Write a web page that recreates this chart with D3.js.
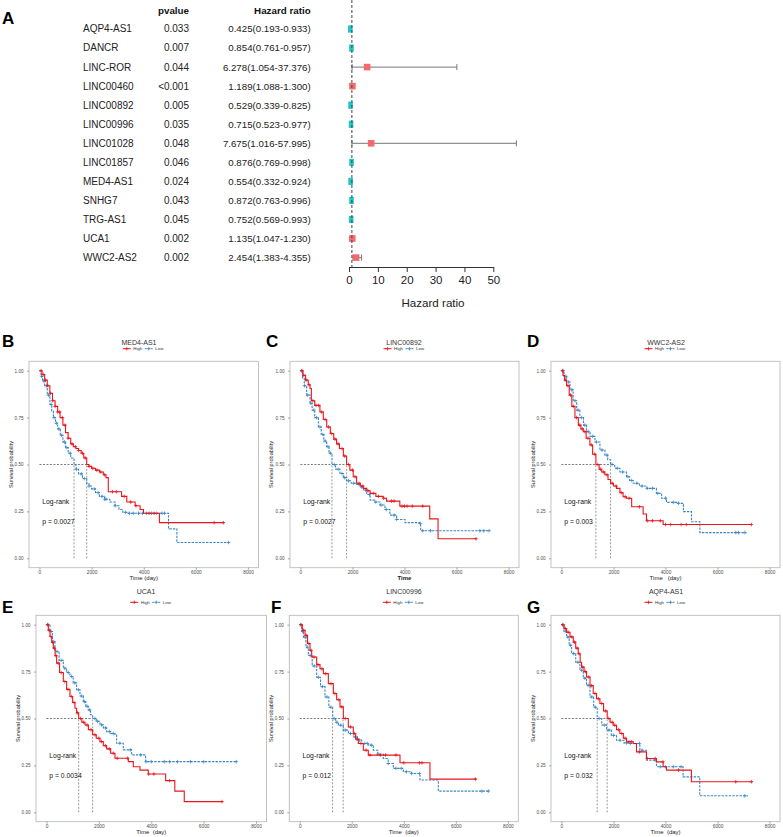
<!DOCTYPE html>
<html><head><meta charset="utf-8">
<script src="https://cdn.jsdelivr.net/npm/d3@7/dist/d3.min.js"></script>
<style>
body{margin:0;background:#fff}
text{font-family:"Liberation Sans",Arial,Helvetica,sans-serif}
</style>
</head><body>
<svg id="fig" width="783" height="837"></svg>
<script>
// ---------------- Forest plot data (panel A) ----------------
const genes = ["AQP4-AS1","DANCR","LINC-ROR","LINC00460","LINC00892","LINC00996","LINC01028","LINC01857","MED4-AS1","SNHG7","TRG-AS1","UCA1","WWC2-AS2"];
const pvalues = ["0.033","0.007","0.044","<0.001","0.005","0.035","0.048","0.046","0.024","0.043","0.045","0.002","0.002"];
const hr     = [0.425,0.854,6.278,1.189,0.529,0.715,7.675,0.876,0.554,0.872,0.752,1.135,2.454];
const hrLow  = [0.193,0.761,1.054,1.088,0.339,0.523,1.016,0.769,0.332,0.763,0.569,1.047,1.383];
const hrHigh = [0.933,0.957,37.376,1.300,0.825,0.977,57.995,0.998,0.924,0.996,0.993,1.230,4.355];
const hrTicks = [0,10,20,30,40,50];

// ---------------- Kaplan-Meier data (panels B-G) ----------------
const kmLetters = ["B","C","D","E","F","G"];
const kmTitles  = ["MED4-AS1","LINC00892","WWC2-AS2","UCA1","LINC00996","AQP4-AS1"];
const kmPvals   = ["p = 0.0027","p = 0.0027","p = 0.003","p = 0.0034","p = 0.012","p = 0.032"];
const kmXLabels = ["Time (day)","Time","Time   (day)","Time  (day)","Time  (day)","Time  (day)"];
const kmMedians = [[1327,1813],[1212,1775],[1325,1888],[1229,1763],[1263,1670],[1375,1758]];
const yTicks = [0,0.25,0.5,0.75,1];
const xTicks = [0,2000,4000,6000,8000];
const groupNames = ["High","Low"];

// [time, survival] step points
const B_high = [[0,1],[100,0.98],[200,0.95],[300,0.92],[400,0.88],[500,0.84],[600,0.81],[700,0.78],[790,0.75],[900,0.71],[1000,0.67],[1100,0.64],[1200,0.61],[1300,0.595],[1400,0.585],[1500,0.575],[1600,0.56],[1700,0.535],[1813,0.50],[1900,0.49],[2000,0.48],[2150,0.47],[2300,0.46],[2450,0.445],[2550,0.43],[2640,0.355],[3150,0.33],[3350,0.30],[3670,0.28],[3860,0.26],[3990,0.24],[4600,0.19],[7100,0.19]];
const B_low  = [[0,1],[60,0.97],[120,0.945],[200,0.92],[300,0.87],[400,0.82],[470,0.785],[535,0.75],[620,0.72],[700,0.69],[800,0.655],[900,0.62],[1000,0.59],[1100,0.56],[1200,0.535],[1327,0.50],[1400,0.475],[1500,0.45],[1650,0.425],[1813,0.40],[1900,0.385],[2000,0.37],[2150,0.35],[2300,0.33],[2500,0.315],[2700,0.30],[2900,0.28],[3050,0.26],[3200,0.245],[3400,0.24],[4950,0.157],[5270,0.084],[7300,0.084]];
const C_high = [[0,1],[100,0.975],[200,0.95],[300,0.925],[370,0.905],[420,0.84],[550,0.815],[750,0.78],[880,0.74],[1010,0.70],[1150,0.665],[1280,0.635],[1390,0.61],[1500,0.585],[1650,0.545],[1775,0.50],[1900,0.47],[2030,0.435],[2160,0.40],[2300,0.385],[2420,0.373],[2550,0.36],[2680,0.346],[2900,0.33],[3180,0.32],[3310,0.305],[3820,0.278],[4970,0.21],[5290,0.104],[6760,0.104]];
const C_low  = [[0,1],[80,0.96],[150,0.92],[240,0.87],[370,0.826],[450,0.79],[550,0.75],[690,0.70],[800,0.66],[900,0.625],[1010,0.595],[1100,0.56],[1212,0.50],[1350,0.475],[1520,0.452],[1650,0.43],[1775,0.413],[1950,0.40],[2160,0.394],[2300,0.38],[2420,0.364],[2550,0.34],[2680,0.31],[2850,0.30],[3060,0.284],[3250,0.26],[3440,0.23],[3700,0.207],[4020,0.19],[4590,0.186],[4620,0.147],[7270,0.147]];
const D_high = [[0,1],[60,0.975],[120,0.95],[200,0.92],[300,0.87],[400,0.81],[520,0.75],[650,0.71],[750,0.69],[840,0.675],[950,0.64],[1095,0.604],[1200,0.555],[1325,0.50],[1450,0.475],[1550,0.46],[1670,0.445],[1790,0.42],[1890,0.40],[2000,0.385],[2120,0.373],[2250,0.35],[2370,0.328],[2500,0.32],[2700,0.275],[3140,0.236],[3270,0.20],[3910,0.18],[7300,0.18]];
const D_low  = [[0,1],[100,0.97],[200,0.94],[330,0.898],[450,0.84],[585,0.79],[710,0.75],[850,0.71],[967,0.675],[1100,0.65],[1290,0.62],[1480,0.577],[1670,0.55],[1780,0.525],[1890,0.50],[2050,0.48],[2250,0.46],[2500,0.435],[2620,0.415],[2760,0.40],[3000,0.385],[3270,0.373],[3650,0.346],[3850,0.32],[4040,0.298],[4430,0.293],[4690,0.249],[5000,0.195],[5320,0.137],[7100,0.137]];
const E_high = [[0,1],[70,0.97],[134,0.937],[200,0.905],[261,0.875],[330,0.835],[388,0.795],[500,0.745],[643,0.697],[770,0.655],[897,0.617],[1000,0.585],[1088,0.555],[1150,0.53],[1229,0.50],[1350,0.48],[1470,0.465],[1600,0.44],[1763,0.413],[1900,0.395],[2043,0.377],[2170,0.355],[2297,0.338],[2450,0.315],[2615,0.288],[3123,0.270],[3314,0.243],[3568,0.225],[3887,0.204],[4550,0.169],[4900,0.113],[5260,0.057],[6724,0.057]];
const E_low  = [[0,1],[134,0.964],[230,0.91],[324,0.857],[480,0.81],[643,0.768],[770,0.745],[897,0.724],[1020,0.69],[1151,0.653],[1280,0.62],[1406,0.59],[1500,0.565],[1597,0.546],[1680,0.52],[1763,0.50],[1900,0.485],[2043,0.466],[2170,0.45],[2297,0.43],[2450,0.42],[2615,0.412],[2678,0.368],[2932,0.333],[3250,0.306],[3785,0.27],[7260,0.27]];
const F_high = [[0,1],[100,0.97],[205,0.943],[300,0.9],[396,0.863],[460,0.828],[652,0.787],[780,0.765],[908,0.739],[1100,0.686],[1292,0.633],[1420,0.6],[1548,0.562],[1676,0.50],[1868,0.455],[2060,0.42],[2150,0.39],[2252,0.367],[2444,0.331],[2636,0.305],[3854,0.264],[5005,0.177],[6797,0.177]];
const F_low  = [[0,1],[70,0.965],[141,0.934],[240,0.88],[332,0.836],[480,0.78],[652,0.72],[800,0.67],[972,0.615],[1120,0.56],[1266,0.50],[1380,0.48],[1484,0.464],[1676,0.438],[1870,0.42],[2060,0.402],[2220,0.385],[2380,0.367],[2636,0.358],[2828,0.331],[3000,0.31],[3212,0.287],[3400,0.26],[3597,0.234],[3981,0.216],[4300,0.207],[4622,0.172],[5326,0.113],[7309,0.113]];
const G_high = [[0,1],[100,0.98],[200,0.96],[330,0.935],[455,0.907],[550,0.875],[647,0.845],[720,0.80],[775,0.774],[870,0.75],[967,0.721],[1100,0.675],[1223,0.633],[1350,0.605],[1479,0.58],[1620,0.54],[1760,0.50],[1870,0.48],[1990,0.464],[2120,0.44],[2246,0.42],[2380,0.395],[2502,0.376],[2758,0.367],[2885,0.322],[3269,0.287],[3653,0.269],[3909,0.243],[4037,0.225],[4995,0.163],[7360,0.163]];
const G_low  = [[0,1],[100,0.965],[200,0.934],[300,0.89],[392,0.846],[550,0.80],[712,0.757],[840,0.715],[967,0.677],[1100,0.615],[1240,0.56],[1375,0.50],[1550,0.465],[1735,0.438],[1920,0.41],[2118,0.384],[2400,0.37],[2630,0.367],[3014,0.331],[3269,0.278],[3653,0.243],[4676,0.189],[5316,0.088],[7170,0.088]];

// censoring times (+ marks)
const B_highCens = [60,150,230,320,420,510,600,700,780,880,980,1100,1250,1380,1500,1650,1760,1900,2050,2200,2350,2500,2800,2950,3250,3500,3700,4200,4400,6700,7050];
const B_lowCens  = [80,170,260,350,450,560,650,750,850,960,1050,1180,1420,1600,1720,1900,2100,2250,2400,2500,2550,2900,3300,3450,3600,3800,3950,4100,4300,4500,4700,4800,7250];
const C_highCens = [50,130,220,330,480,600,700,820,950,1080,1200,1330,1450,1600,1700,1850,2000,2100,2250,2400,2600,2800,3000,3200,3500,3600,3900,4000,4100,4300,4700,6750];
const C_lowCens  = [60,160,280,400,520,620,750,860,950,1060,1150,1300,1450,1600,1700,1850,2050,2250,2350,2500,2650,2900,3100,3300,3600,3700,4600,4700,5000,6900,7050,7250];
const D_highCens = [40,150,250,350,460,580,700,800,900,1020,1150,1280,1400,1500,1620,1750,1950,2100,2300,2450,2600,3000,3300,3500,3800,4000,4200,4600,4800,7300];
const D_lowCens  = [70,170,270,400,520,640,780,900,1030,1200,1350,1560,1750,1950,2150,2350,2550,2700,2900,3100,3300,3500,3700,4000,4300,4500,6700,6800,7050];
const E_highCens = [40,100,170,240,300,360,450,560,700,820,950,1050,1180,1300,1420,1550,1700,1850,2000,2100,2250,2400,2550,2700,3100,3900,4100,4700,6700];
const E_lowCens  = [60,180,280,400,560,700,830,960,1080,1220,1350,1450,1550,1650,1850,1950,2100,2250,2400,2550,2800,3200,3600,3800,4000,4500,4700,5000,5500,6000,7250];
const F_highCens = [50,150,250,350,430,550,700,850,1000,1200,1350,1500,1620,1750,1950,2100,2200,2350,2550,2700,3100,3300,3700,4000,4600,4700,6750];
const F_lowCens  = [40,110,200,290,400,560,720,880,1050,1200,1320,1430,1580,1750,1950,2150,2300,2500,2600,2750,3000,3400,3700,3900,4100,4300,4600,7000,7250];
const G_highCens = [60,150,260,400,500,600,680,820,920,1050,1160,1290,1420,1550,1700,1820,1950,2050,2200,2320,2450,2600,2700,3000,3300,3600,3900,4500,6700,7300];
const G_lowCens  = [50,150,250,350,470,630,780,900,1030,1170,1300,1450,1650,1830,2000,2250,2500,2650,3000,3100,3600,3800,4000,4300,4600,7050];

const kmHigh = [B_high,C_high,D_high,E_high,F_high,G_high];
const kmLow  = [B_low,C_low,D_low,E_low,F_low,G_low];
const kmHighCens = [B_highCens,C_highCens,D_highCens,E_highCens,F_highCens,G_highCens];
const kmLowCens  = [B_lowCens,C_lowCens,D_lowCens,E_lowCens,F_lowCens,G_lowCens];

// ---------------- layout ----------------
const svg = d3.select("#fig");
const FONT = '"Liberation Sans",Arial,Helvetica,sans-serif';
const RED = "#E8161B", BLUE = "#3A85C6", CYAN = "#20C6C8", SALMON = "#F56B6B";

// ---- Panel A ----
(function(){
  const g = svg.append("g");
  const fx = d3.scaleLinear().domain([0,50]).range([349,493.3]);
  const rowY = d3.scalePoint().domain(d3.range(genes.length)).range([29, 29+19.05*12]);
  g.append("text").attr("x",2).attr("y",24).attr("font-size",17).attr("font-weight","bold").text("A");
  g.append("text").attr("x",189).attr("y",13.5).attr("text-anchor","end").attr("font-size",9.8).attr("font-weight","bold").attr("fill","#111").text("pvalue");
  g.append("text").attr("x",310.7).attr("y",13.5).attr("text-anchor","end").attr("font-size",9.8).attr("font-weight","bold").attr("fill","#111").text("Hazard ratio");
  const rows = g.selectAll("g.row").data(genes.map((d,i)=>i)).join("g");
  rows.append("text").attr("x",83).attr("y",i=>rowY(i)+3.4).attr("font-size",10).attr("fill","#222").text(i=>genes[i]);
  rows.append("text").attr("x",189).attr("y",i=>rowY(i)+3.4).attr("text-anchor","end").attr("font-size",10).attr("fill","#222").text(i=>pvalues[i]);
  rows.append("text").attr("x",310.7).attr("y",i=>rowY(i)+3.4).attr("text-anchor","end").attr("font-size",9.7).attr("fill","#222")
      .text(i=>`${hr[i].toFixed(3)}(${hrLow[i].toFixed(3)}-${hrHigh[i].toFixed(3)})`);
  // reference line
  g.append("line").attr("x1",fx(1)).attr("x2",fx(1)).attr("y1",0).attr("y2",267)
    .attr("stroke","#444").attr("stroke-width",1).attr("stroke-dasharray","3,2");
  // CI
  rows.append("line").attr("x1",i=>fx(hrLow[i])).attr("x2",i=>fx(hrHigh[i])).attr("y1",i=>rowY(i)).attr("y2",i=>rowY(i))
    .attr("stroke","#777").attr("stroke-width",1);
  rows.append("line").attr("x1",i=>fx(hrLow[i])).attr("x2",i=>fx(hrLow[i])).attr("y1",i=>rowY(i)-3).attr("y2",i=>rowY(i)+3).attr("stroke","#777").attr("stroke-width",1);
  rows.append("line").attr("x1",i=>fx(hrHigh[i])).attr("x2",i=>fx(hrHigh[i])).attr("y1",i=>rowY(i)-3).attr("y2",i=>rowY(i)+3).attr("stroke","#777").attr("stroke-width",1);
  // boxes
  rows.append("rect")
    .attr("x",i=>fx(hr[i]) - (hr[i]>1?3.3:2.3))
    .attr("y",i=>rowY(i) - (hr[i]>1?3.3:3.6))
    .attr("width",i=>hr[i]>1?6.6:4.6)
    .attr("height",i=>hr[i]>1?6.6:7.2)
    .attr("fill",i=>hr[i]>1?SALMON:CYAN);
  // axis
  const ax = g.append("g").attr("transform","translate(0,267)")
    .call(d3.axisBottom(fx).tickValues(hrTicks).tickSize(5).tickSizeOuter(0).tickPadding(4));
  ax.select(".domain").attr("stroke","#333");
  ax.selectAll(".tick line").attr("stroke","#333");
  ax.selectAll("text").attr("font-size",11.5).attr("font-family",FONT).attr("fill","#222");
  g.append("text").attr("x",433).attr("y",307).attr("text-anchor","middle").attr("font-size",11.6).attr("fill","#222").text("Hazard ratio");
})();

// ---- KM panels ----
const panelLayout = [
  {left:29,   right:258.5, y1:370.7, y0:558.3, lx:2,   ly:347, tx:139, ty:345.2, legY:348.7, ylabX:12.5, xlabY:579.6},
  {left:290,  right:519,   y1:370.7, y0:558.3, lx:266, ly:347, tx:404, ty:345.2, legY:348.7, ylabX:273.3, xlabY:579.6},
  {left:551,  right:780,   y1:370.7, y0:558.3, lx:527, ly:347, tx:666, ty:345.2, legY:348.7, ylabX:535, xlabY:579.6},
  {left:36,   right:266.5, y1:624.7, y0:812.3, lx:2,   ly:613, tx:146, ty:593.5, legY:602.3, ylabX:20, xlabY:834.4},
  {left:289.3,right:518.3, y1:624.7, y0:812.3, lx:271, ly:613, tx:404, ty:593.5, legY:602.3, ylabX:273, xlabY:834.4},
  {left:551,  right:780,   y1:624.7, y0:812.3, lx:527, ly:613, tx:666, ty:593.5, legY:602.3, ylabX:535, xlabY:834.4}
];

function stepValue(pts, t){
  let v = pts[0][1];
  for (const p of pts){ if (p[0] <= t) v = p[1]; else break; }
  return v;
}
const plusPath = "M-1.8,0H1.8M0,-1.8V1.8";

kmTitles.forEach((title, k) => {
  const L = panelLayout[k];
  const g = svg.append("g");
  const x = d3.scaleLinear().domain([-400, 8400]).range([L.left, L.right]);
  const yy = d3.scaleLinear().domain([0,1]).range([L.y0, L.y1]);
  g.append("text").attr("x",L.lx).attr("y",L.ly).attr("font-size",17).attr("font-weight","bold").text(kmLetters[k]);
  g.append("text").attr("x",L.tx).attr("y",L.ty).attr("text-anchor","middle").attr("font-size",7).attr("fill","#333").text(title);
  const cx = (L.left+L.right)/2;
  const lg = g.append("g").attr("transform",`translate(${cx-21},${L.legY})`);
  const legItems = [{c:RED,dash:null,name:groupNames[0],dx:0},{c:BLUE,dash:"2,1",name:groupNames[1],dx:22}];
  legItems.forEach(it=>{
    lg.append("line").attr("x1",it.dx).attr("x2",it.dx+8).attr("y1",0).attr("y2",0).attr("stroke",it.c).attr("stroke-width",1).attr("stroke-dasharray",it.dash);
    lg.append("path").attr("d",plusPath).attr("transform",`translate(${it.dx+4},0)`).attr("stroke",it.c).attr("stroke-width",0.7);
    lg.append("text").attr("x",it.dx+10.5).attr("y",1.6).attr("font-size",4.4).attr("fill","#333").text(it.name);
  });
  g.append("rect").attr("x",x(-400)).attr("y",yy(1.05)).attr("width",x(8400)-x(-400)).attr("height",yy(-0.05)-yy(1.05))
    .attr("fill","none").attr("stroke","#BDBDBD").attr("stroke-width",0.9);
  const ya = g.append("g").attr("transform",`translate(${L.left},0)`)
    .call(d3.axisLeft(yy).tickValues(yTicks).tickFormat(d3.format(".2f")).tickSize(2).tickPadding(3.5));
  ya.select(".domain").remove();
  ya.selectAll(".tick line").attr("stroke","#555").attr("stroke-width",0.5);
  ya.selectAll("text").attr("font-size",4.6).attr("font-family",FONT).attr("fill","#4D4D4D");
  const xa = g.append("g").attr("transform",`translate(0,${yy(-0.05)})`)
    .call(d3.axisBottom(x).tickValues(xTicks).tickFormat(d3.format("d")).tickSize(2).tickPadding(1));
  xa.select(".domain").remove();
  xa.selectAll(".tick line").attr("stroke","#555").attr("stroke-width",0.5);
  xa.selectAll("text").attr("font-size",4.8).attr("font-family",FONT).attr("fill","#4D4D4D");
  g.append("text").attr("transform",`translate(${L.ylabX},${(yy(0.5))}) rotate(-90)`).attr("text-anchor","middle")
    .attr("font-size",5.6).attr("fill","#222").text("Survival probability");
  g.append("text").attr("x",cx).attr("y",L.xlabY).attr("text-anchor","middle").attr("font-size",6)
    .attr("fill","#222").attr("font-weight",k===1?"bold":"normal").style("white-space","pre").text(kmXLabels[k]);
  const med = kmMedians[k];
  g.append("line").attr("x1",x(0)).attr("x2",x(d3.max(med))).attr("y1",yy(0.5)).attr("y2",yy(0.5))
    .attr("stroke","#222").attr("stroke-width",0.6).attr("stroke-dasharray","2,1.5");
  med.forEach(m=>{
    g.append("line").attr("x1",x(m)).attr("x2",x(m)).attr("y1",yy(0)).attr("y2",yy(0.5))
      .attr("stroke","#555").attr("stroke-width",0.6).attr("stroke-dasharray","2,1.5");
  });
  const line = d3.line().x(d=>x(d[0])).y(d=>yy(d[1])).curve(d3.curveStepAfter);
  const curves = [
    {pts:kmLow[k], cens:kmLowCens[k], c:BLUE, dash:"2.4,1.2"},
    {pts:kmHigh[k], cens:kmHighCens[k], c:RED, dash:null}
  ];
  curves.forEach(cv=>{
    g.append("path").attr("d",line(cv.pts)).attr("fill","none").attr("stroke",cv.c)
      .attr("stroke-width",1.1).attr("stroke-dasharray",cv.dash);
    g.selectAll(null).data(cv.cens).join("path").attr("d",plusPath)
      .attr("transform",t=>`translate(${x(t)},${yy(stepValue(cv.pts,t))})`)
      .attr("stroke",cv.c).attr("stroke-width",0.75).attr("fill","none");
  });
  g.append("text").attr("x",x(110)).attr("y",yy(0.30)).attr("dy","0.35em").attr("font-size",6.8).attr("fill","#111").text("Log-rank");
  g.append("text").attr("x",x(110)).attr("y",yy(0.197)).attr("dy","0.35em").attr("font-size",6.8).attr("fill","#111").text(kmPvals[k]);
});
</script>
</body></html>
